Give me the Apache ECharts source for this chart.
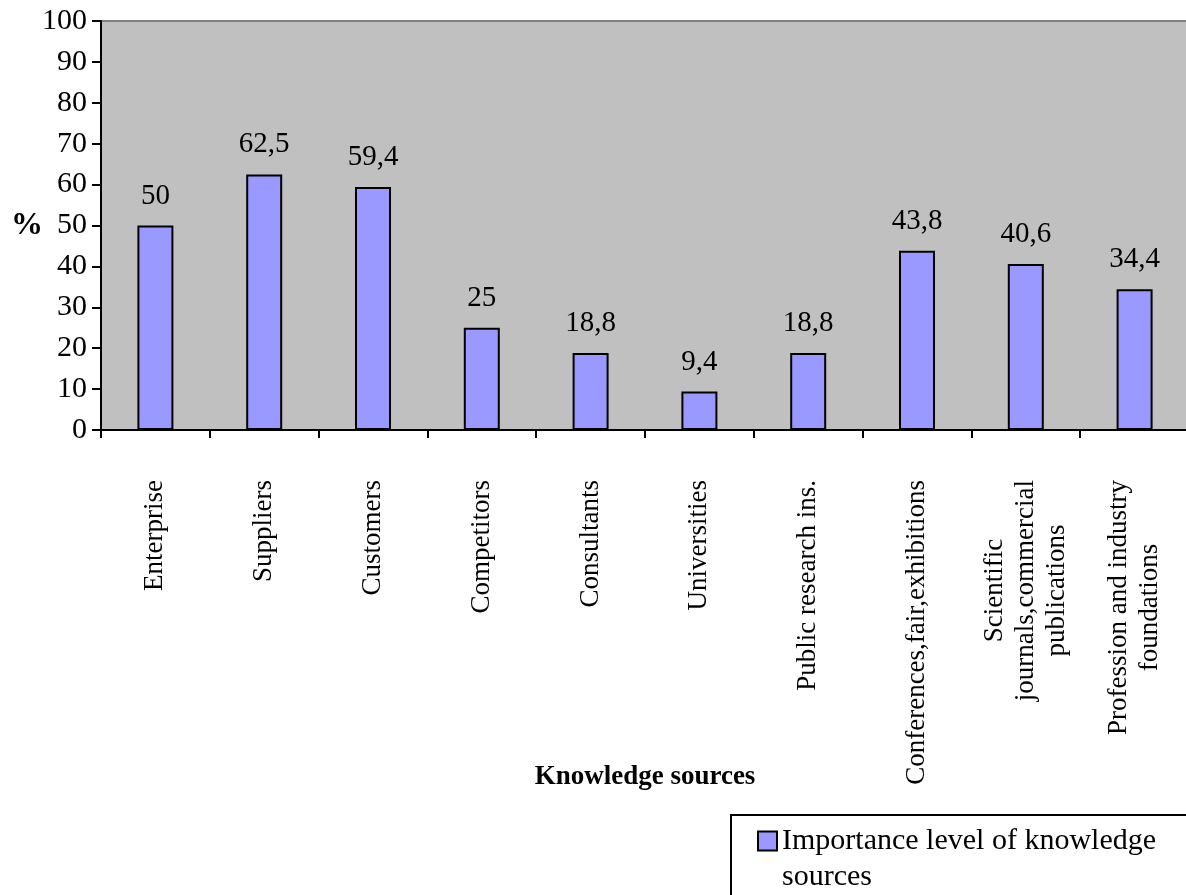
<!DOCTYPE html>
<html>
<head>
<meta charset="utf-8">
<script src="https://cdn.jsdelivr.net/npm/echarts@6/dist/echarts.min.js"></script>
<style>
  html, body { margin: 0; padding: 0; background: #fff; }
  #chart { width: 1186px; height: 895px; }
</style>
</head>
<body>
<div id="chart"></div>
<script>
// categories (knowledge sources)
const categories = [
  'Enterprise',
  'Suppliers',
  'Customers',
  'Competitors',
  'Consultants',
  'Universities',
  'Public research ins.',
  'Conferences,fair,exhibitions',
  'Scientific\njournals,commercial\npublications',
  'Profession and industry\nfoundations'
]
// importance level (%)
const importance = [50, 62.5, 59.4, 25, 18.8, 9.4, 18.8, 43.8, 40.6, 34.4]
const seriesName = 'Importance level of knowledge sources'

const font = '"Liberation Serif", "Times New Roman", serif'

const chart = echarts.init(document.getElementById('chart'))
const option = {
  animation: false,
  textStyle: { fontFamily: font, color: '#000' },
  grid: {
    left: 101,
    top: 21,
    right: -3,
    bottom: 465,
    outerBoundsMode: 'none',
    containLabel: false,
    show: true,
    backgroundColor: '#c0c0c0',
    borderColor: '#808080',
    borderWidth: 2
  },
  legend: {
    left: 752,
    top: 785,
    icon: 'rect',
    itemWidth: 19,
    itemHeight: 19,
    data: [seriesName],
    // empty first line keeps the icon level with the first text line
    formatter: () => '{e| }\n{a|Importance level of knowledge}\n{a|sources}',
    textStyle: {
      fontFamily: font,
      fontSize: 30,
      color: '#000',
      rich: {
        e: { fontSize: 30, lineHeight: 36 },
        a: { fontFamily: font, fontSize: 30, lineHeight: 36, color: '#000' }
      }
    }
  },
  graphic: [
    {
      type: 'rect',
      shape: { x: 731, y: 815, width: 500, height: 120 },
      style: { fill: 'none', stroke: '#000', lineWidth: 2 },
      z: 0
    }
  ],
  xAxis: {
    type: 'category',
    data: categories,
    name: 'Knowledge sources',
    nameLocation: 'middle',
    nameGap: 334,
    nameMoveOverlap: false,
    nameTextStyle: { fontFamily: font, fontSize: 27, fontWeight: 'bold', color: '#000' },
    axisLine: { lineStyle: { color: '#000', width: 2 } },
    axisTick: { show: true, length: 8, lineStyle: { color: '#000', width: 2 } },
    axisLabel: {
      rotate: 90,
      margin: 50,
      interval: 0,
      fontFamily: font,
      fontSize: 27,
      lineHeight: 31,
      color: '#000',
      formatter: (v) => v.split('\n').map(s => '{c|' + s + '}').join('\n'),
      rich: { c: { align: 'center', fontFamily: font, fontSize: 27, lineHeight: 31, color: '#000' } }
    }
  },
  yAxis: {
    type: 'value',
    min: 0,
    max: 100,
    interval: 10,
    name: '%',
    nameLocation: 'middle',
    nameRotate: 0,
    nameGap: 58,
    nameMoveOverlap: false,
    nameTextStyle: { fontFamily: font, fontSize: 32, fontWeight: 'bold', color: '#000' },
    axisLine: { show: true, lineStyle: { color: '#000', width: 2 } },
    axisTick: { show: true, length: 9, lineStyle: { color: '#000', width: 2 } },
    axisLabel: { fontFamily: font, fontSize: 30, color: '#000', margin: 14 },
    splitLine: { show: false }
  },
  series: [
    {
      name: seriesName,
      type: 'bar',
      data: importance,
      barWidth: 36,
      itemStyle: { color: '#9999ff', borderColor: '#000', borderWidth: 2 },
      label: {
        show: true,
        position: 'top',
        distance: 15,
        fontFamily: font,
        fontSize: 29,
        color: '#000',
        formatter: (p) => String(p.value).replace('.', ',')
      }
    }
  ]
}
chart.setOption(option)
</script>
</body>
</html>
